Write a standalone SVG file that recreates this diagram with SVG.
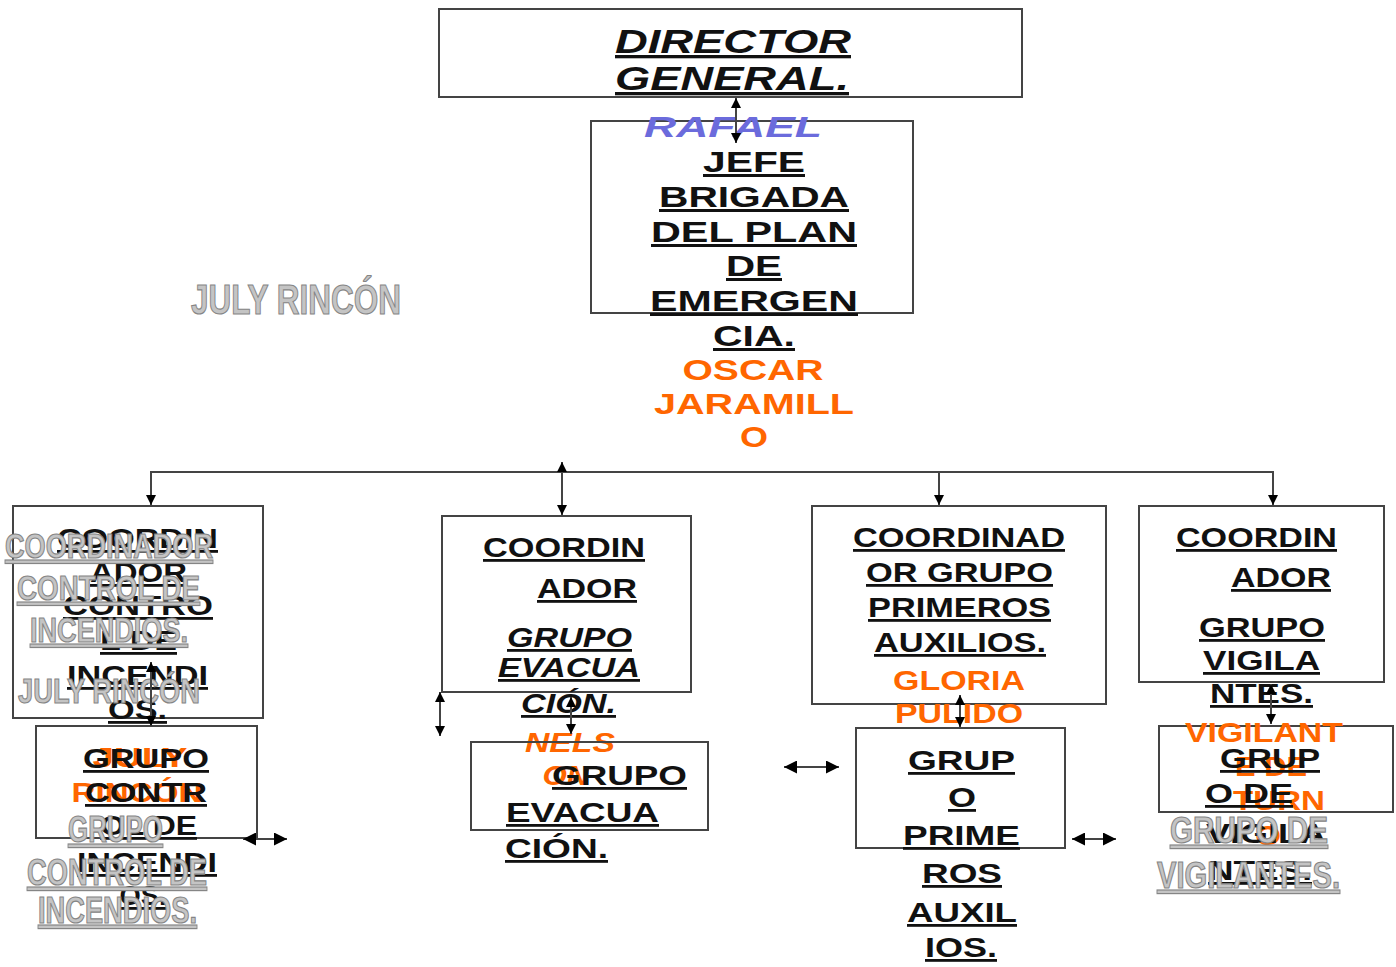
<svg xmlns="http://www.w3.org/2000/svg" width="1396" height="967" viewBox="0 0 1396 967">
<defs>
<style>
.box{fill:none;stroke:#444;stroke-width:2}
.b{font-family:"Liberation Sans",Arial,sans-serif;font-weight:bold;fill:#111;text-anchor:middle;text-decoration:underline;font-size:28px}
.i{font-style:italic}
.o{font-family:"Liberation Sans",Arial,sans-serif;font-weight:bold;fill:#ff6600;text-anchor:middle;font-size:28px}
.bl{font-family:"Liberation Sans",Arial,sans-serif;font-weight:bold;font-style:italic;fill:#6b6bdc;text-anchor:middle;font-size:30px}
.g{font-family:"Liberation Sans Narrow","Liberation Sans",Arial,sans-serif;font-weight:bold;fill:#c4c4c4;stroke:#858585;stroke-width:1.2;text-anchor:middle;font-size:35px;text-decoration:underline}
.nu{text-decoration:none}
.c{fill:none;stroke:#444;stroke-width:2}
</style>
<marker id="ah" viewBox="0 0 10 10" refX="10" refY="5" markerWidth="10" markerHeight="10" markerUnits="userSpaceOnUse" orient="auto-start-reverse"><path d="M0,0 L10,5 L0,10 z" fill="#000"/></marker>
<marker id="ahb" viewBox="0 0 12 12" refX="12" refY="6" markerWidth="13" markerHeight="13" markerUnits="userSpaceOnUse" orient="auto-start-reverse"><path d="M0,0 L12,6 L0,12 z" fill="#000"/></marker>
</defs>
<rect width="1396" height="967" fill="#fff"/>

<g id="director">
<rect class="box" x="439" y="9" width="583" height="88"/>
<text class="b i" style="font-size:33px" x="733" y="53" textLength="236" lengthAdjust="spacingAndGlyphs">DIRECTOR</text>
<text class="b i" style="font-size:33px" x="732" y="90" textLength="234" lengthAdjust="spacingAndGlyphs">GENERAL.</text>
</g>

<g id="jefe">
<rect class="box" x="591" y="121" width="322" height="192"/>
<text class="bl" x="733" y="137" textLength="178" lengthAdjust="spacingAndGlyphs">RAFAEL</text>
<text class="b" style="font-size:30px" x="754" y="172" textLength="102" lengthAdjust="spacingAndGlyphs">JEFE</text>
<text class="b" style="font-size:30px" x="754" y="207" textLength="190" lengthAdjust="spacingAndGlyphs">BRIGADA</text>
<text class="b" style="font-size:30px" x="754" y="242" textLength="206" lengthAdjust="spacingAndGlyphs">DEL PLAN</text>
<text class="b" style="font-size:30px" x="754" y="276" textLength="56" lengthAdjust="spacingAndGlyphs">DE</text>
<text class="b" style="font-size:30px" x="754" y="311" textLength="208" lengthAdjust="spacingAndGlyphs">EMERGEN</text>
<text class="b" style="font-size:30px" x="754" y="346" textLength="82" lengthAdjust="spacingAndGlyphs">CIA.</text>
<text class="o" style="font-size:30px" x="753" y="380" textLength="141" lengthAdjust="spacingAndGlyphs">OSCAR</text>
<text class="o" style="font-size:30px" x="754" y="414" textLength="200" lengthAdjust="spacingAndGlyphs">JARAMILL</text>
<text class="o" style="font-size:30px" x="754" y="447" textLength="28" lengthAdjust="spacingAndGlyphs">O</text>
</g>

<g id="july">
<text class="g nu" style="font-size:43px" x="296" y="314" textLength="210" lengthAdjust="spacingAndGlyphs">JULY RINCÓN</text>
</g>

<g id="coord-incendios">
<rect class="box" x="13" y="506" width="250" height="212"/>
<text class="b" x="137.5" y="548" textLength="161" lengthAdjust="spacingAndGlyphs">COORDIN</text>
<text class="b" x="138.5" y="582" textLength="97" lengthAdjust="spacingAndGlyphs">ADOR</text>
<text class="b" x="138" y="615" textLength="150" lengthAdjust="spacingAndGlyphs">CONTRO</text>
<text class="b" x="138.5" y="650" textLength="77" lengthAdjust="spacingAndGlyphs">L DE</text>
<text class="b" x="137.5" y="685" textLength="141" lengthAdjust="spacingAndGlyphs">INCENDI</text>
<text class="b" x="137.5" y="719" textLength="59" lengthAdjust="spacingAndGlyphs">OS.</text>
<text class="g" x="109" y="558" textLength="208" lengthAdjust="spacingAndGlyphs">COORDINADOR</text>
<text class="g" x="108.5" y="600" textLength="183" lengthAdjust="spacingAndGlyphs">CONTROL DE</text>
<text class="g" x="109" y="642" textLength="158" lengthAdjust="spacingAndGlyphs">INCENDIOS.</text>
<text class="g nu" x="109" y="703" textLength="182" lengthAdjust="spacingAndGlyphs">JULY RINCÓN</text>
</g>

<g id="grupo-incendios">
<rect class="box" x="36" y="726" width="221" height="112"/>
<text class="o" x="140" y="767" textLength="95" lengthAdjust="spacingAndGlyphs">JULY</text>
<text class="o" x="137" y="802" textLength="131" lengthAdjust="spacingAndGlyphs">RINCÓN</text>
<text class="b" x="146" y="768" textLength="126" lengthAdjust="spacingAndGlyphs">GRUPO</text>
<text class="b" x="146" y="802" textLength="122" lengthAdjust="spacingAndGlyphs">CONTR</text>
<text class="b" x="148.5" y="835" textLength="97" lengthAdjust="spacingAndGlyphs">OL DE</text>
<text class="b" x="147" y="872" textLength="140" lengthAdjust="spacingAndGlyphs">INCENDI</text>
<text class="b" x="143" y="905" textLength="47" lengthAdjust="spacingAndGlyphs">OS.</text>
<text class="g" style="font-size:36px" x="115.5" y="842" textLength="95" lengthAdjust="spacingAndGlyphs">GRUPO</text>
<text class="g" style="font-size:36px" x="117" y="885" textLength="180" lengthAdjust="spacingAndGlyphs">CONTROL DE</text>
<text class="g" style="font-size:36px" x="117.5" y="923" textLength="159" lengthAdjust="spacingAndGlyphs">INCENDIOS.</text>
</g>

<g id="coord-evacuacion">
<rect class="box" x="442" y="516" width="249" height="176"/>
<text class="b" x="564" y="557" textLength="162" lengthAdjust="spacingAndGlyphs">COORDIN</text>
<text class="b" x="587" y="598" textLength="100" lengthAdjust="spacingAndGlyphs">ADOR</text>
<text class="b i" x="569.5" y="647" textLength="125" lengthAdjust="spacingAndGlyphs">GRUPO</text>
<text class="b i" x="569" y="677" textLength="142" lengthAdjust="spacingAndGlyphs">EVACUA</text>
<text class="b i" x="568.5" y="713" textLength="95" lengthAdjust="spacingAndGlyphs">CIÓN.</text>
<text class="o i" x="570" y="752" textLength="90" lengthAdjust="spacingAndGlyphs">NELS</text>
<text class="o i" x="566" y="785" textLength="47" lengthAdjust="spacingAndGlyphs">ON</text>
</g>

<g id="grupo-evacuacion">
<rect class="box" x="471" y="742" width="237" height="88"/>
<text class="b" x="619.5" y="785" textLength="135" lengthAdjust="spacingAndGlyphs">GRUPO</text>
<text class="b" x="582.5" y="822" textLength="153" lengthAdjust="spacingAndGlyphs">EVACUA</text>
<text class="b" x="556.5" y="858" textLength="103" lengthAdjust="spacingAndGlyphs">CIÓN.</text>
</g>

<g id="coord-auxilios">
<rect class="box" x="812" y="506" width="294" height="198"/>
<text class="b" x="959" y="547" textLength="212" lengthAdjust="spacingAndGlyphs">COORDINAD</text>
<text class="b" x="959.5" y="582" textLength="187" lengthAdjust="spacingAndGlyphs">OR GRUPO</text>
<text class="b" x="959.5" y="617" textLength="183" lengthAdjust="spacingAndGlyphs">PRIMEROS</text>
<text class="b" x="960" y="652" textLength="172" lengthAdjust="spacingAndGlyphs">AUXILIOS.</text>
<text class="o" x="959" y="690" textLength="132" lengthAdjust="spacingAndGlyphs">GLORIA</text>
<text class="o" x="959" y="723" textLength="128" lengthAdjust="spacingAndGlyphs">PULIDO</text>
</g>

<g id="grupo-auxilios">
<rect class="box" x="856" y="728" width="209" height="120"/>
<text class="b" x="961.5" y="770" textLength="107" lengthAdjust="spacingAndGlyphs">GRUP</text>
<text class="b" x="962" y="807" textLength="28" lengthAdjust="spacingAndGlyphs">O</text>
<text class="b" x="961.5" y="845" textLength="117" lengthAdjust="spacingAndGlyphs">PRIME</text>
<text class="b" x="962" y="883" textLength="80" lengthAdjust="spacingAndGlyphs">ROS</text>
<text class="b" x="962" y="922" textLength="110" lengthAdjust="spacingAndGlyphs">AUXIL</text>
<text class="b" x="961" y="957" textLength="72" lengthAdjust="spacingAndGlyphs">IOS.</text>
</g>

<g id="coord-vigilantes">
<rect class="box" x="1139" y="506" width="245" height="176"/>
<text class="b" x="1256.5" y="547" textLength="161" lengthAdjust="spacingAndGlyphs">COORDIN</text>
<text class="b" x="1281" y="587" textLength="100" lengthAdjust="spacingAndGlyphs">ADOR</text>
<text class="b" x="1262" y="637" textLength="126" lengthAdjust="spacingAndGlyphs">GRUPO</text>
<text class="b" x="1261.5" y="670" textLength="117" lengthAdjust="spacingAndGlyphs">VIGILA</text>
<text class="b" x="1261.5" y="703" textLength="103" lengthAdjust="spacingAndGlyphs">NTES.</text>
</g>

<g id="grupo-vigilantes">
<rect class="box" x="1159" y="726" width="234" height="86"/>
<text class="o" x="1264" y="742" textLength="158" lengthAdjust="spacingAndGlyphs">VIGILANT</text>
<text class="o" x="1271" y="776" textLength="72" lengthAdjust="spacingAndGlyphs">E DE</text>
<text class="o" x="1279" y="810" textLength="92" lengthAdjust="spacingAndGlyphs">TURN</text>
<text class="o" x="1268" y="845" textLength="26" lengthAdjust="spacingAndGlyphs">O</text>
<text class="b" x="1270" y="768" textLength="100" lengthAdjust="spacingAndGlyphs">GRUP</text>
<text class="b" x="1249" y="803" textLength="88" lengthAdjust="spacingAndGlyphs">O DE</text>
<text class="b" x="1266" y="843" textLength="120" lengthAdjust="spacingAndGlyphs">VIGILA</text>
<text class="b" x="1260" y="880" textLength="104" lengthAdjust="spacingAndGlyphs">NTES.</text>
<text class="g" style="font-size:36px" x="1249" y="843" textLength="158" lengthAdjust="spacingAndGlyphs">GRUPO DE</text>
<text class="g" style="font-size:36px" x="1248.5" y="888" textLength="183" lengthAdjust="spacingAndGlyphs">VIGILANTES.</text>
</g>

<g id="connectors">
<path class="c" d="M736,98 V143" marker-start="url(#ah)" marker-end="url(#ah)"/>
<path class="c" d="M151,505 V472 H1273 V505" marker-start="url(#ah)" marker-end="url(#ah)"/>
<path class="c" d="M939,472 V505" marker-end="url(#ah)"/>
<path class="c" d="M562,462 V515" marker-start="url(#ah)" marker-end="url(#ah)"/>
<path class="c" d="M151,662 V726" marker-start="url(#ah)" marker-end="url(#ah)"/>
<path class="c" d="M440,692 V736" marker-start="url(#ah)" marker-end="url(#ah)"/>
<path class="c" d="M571,697 V734" marker-start="url(#ah)" marker-end="url(#ah)"/>
<path class="c" d="M960,695 V727" marker-start="url(#ah)" marker-end="url(#ah)"/>
<path class="c" d="M1271,684 V724" marker-start="url(#ah)" marker-end="url(#ah)"/>
<path class="c" d="M243,839 H287" marker-start="url(#ahb)" marker-end="url(#ahb)"/>
<path class="c" d="M784,767 H839" marker-start="url(#ahb)" marker-end="url(#ahb)"/>
<path class="c" d="M1072,839 H1116" marker-start="url(#ahb)" marker-end="url(#ahb)"/>
</g>
</svg>
